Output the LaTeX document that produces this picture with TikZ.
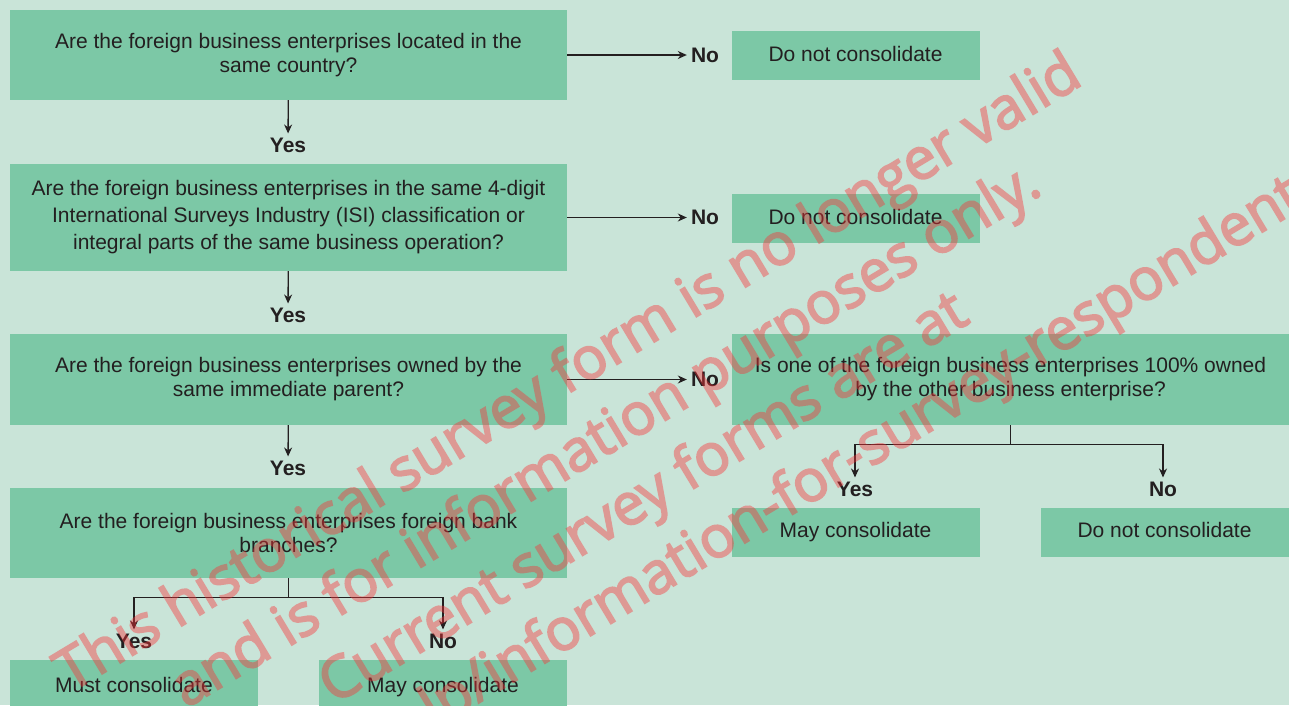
\documentclass[tikz,border=0pt]{standalone}
\usepackage{fontspec}
\setmainfont{Liberation Sans}
\newfontfamily\wmfont{Open Sans}[FakeBold=3]
\usetikzlibrary{arrows.meta}
\definecolor{bggreen}{RGB}{201,228,216}
\definecolor{boxgreen}{RGB}{124,200,166}
\definecolor{inkgray}{RGB}{35,31,32}
\definecolor{wmred}{RGB}{250,50,55}

\begin{document}
\begin{tikzpicture}[x=1pt,y=-1pt]
	\tikzstyle{qbox}=[fill=boxgreen,text=inkgray,minimum width=557pt,minimum height=90pt,inner sep=0pt,align=center,font=\fontsize{21}{24}\selectfont]
	\tikzstyle{abox}=[fill=boxgreen,text=inkgray,minimum width=248pt,minimum height=49pt,inner sep=0pt,text height=15pt,text depth=4pt,font=\fontsize{21}{24}\selectfont]
	\tikzstyle{lbl}=[text=inkgray,inner sep=4pt,font=\fontsize{21}{24}\selectfont\bfseries]
	\tikzstyle{flow}=[-{Stealth[length=9pt,width=8pt]},line width=1.3pt,draw=inkgray]
	\tikzstyle{forkline}=[line width=1.3pt,draw=inkgray]

	\fill[bggreen] (0,0) rectangle (1289,705);
	\useasboundingbox (0,0) rectangle (1289,705);

	% left column
	\node (q1) [qbox] at (288.5,55) {Are the foreign business enterprises located in the\\same country?};
	\node (q2) [qbox, minimum height=107pt, font=\fontsize{21}{27}\selectfont] at (288.5,217.5) {Are the foreign business enterprises in the same 4-digit\\International Surveys Industry (ISI) classification or\\integral parts of the same business operation?};
	\node (q3) [qbox, minimum height=91pt] at (288.5,379.5) {Are the foreign business enterprises owned by the\\same immediate parent?};
	\node (q5) [qbox] at (288.5,533) {Are the foreign business enterprises foreign bank\\branches?};

	\node (yes1) [lbl] at (288,145) {Yes};
	\node (yes2) [lbl] at (288,315) {Yes};
	\node (yes3) [lbl] at (288,468) {Yes};
	\node (yes5) [lbl] at (134,641) {Yes};
	\node (no5) [lbl] at (443,641) {No};

	\node (must) [abox, minimum height=54pt] at (134,687) {Must consolidate};
	\node (may1) [abox, minimum height=54pt] at (443,687) {May consolidate};

	% right column
	\node (no1) [lbl] at (705,55) {No};
	\node (no2) [lbl] at (705,217.5) {No};
	\node (no3) [lbl] at (705,379.5) {No};

	\node (dnc1) [abox] at (855.5,55.5) {Do not consolidate};
	\node (dnc2) [abox] at (855.5,218.5) {Do not consolidate};
	\node (q4) [qbox, minimum height=91pt] at (1010.5,379.5) {Is one of the foreign business enterprises 100\% owned\\by the other business enterprise?};

	\node (yes4) [lbl] at (855,489) {Yes};
	\node (no4) [lbl] at (1163,489) {No};
	\node (may2) [abox] at (855.5,532) {May consolidate};
	\node (dnc3) [abox] at (1164.5,532) {Do not consolidate};

	% connectors
	\draw[flow] (q1) -- (no1);
	\draw[flow] (q2) -- (no2);
	\draw[flow] (q3) -- (no3);
	\draw[flow] (q1) -- (yes1);
	\draw[flow] (q2) -- (yes2);
	\draw[flow] (q3) -- (yes3);

	\draw[forkline] (q5.south) -- ++(0,19) coordinate (q5fork);
	\draw[flow] (q5fork) -| (yes5);
	\draw[flow] (q5fork) -| (no5);

	\draw[forkline] (q4.south) -- ++(0,19) coordinate (q4fork);
	\draw[flow] (q4fork) -| (yes4);
	\draw[flow] (q4fork) -| (no4);

	% watermark
	\begin{scope}[transparency group,opacity=0.42]
		\clip (0,0) rectangle (1289,705);
		\node (stamp) [rotate=31,text=wmred,align=center,font=\wmfont\fontsize{58}{73}\selectfont] at (626,469) {This historical survey form is no longer valid\\and is for information purposes only.\\Current survey forms are at\\www.bea.gov/help/information-for-survey-respondents};
	\end{scope}
\end{tikzpicture}
\end{document}
